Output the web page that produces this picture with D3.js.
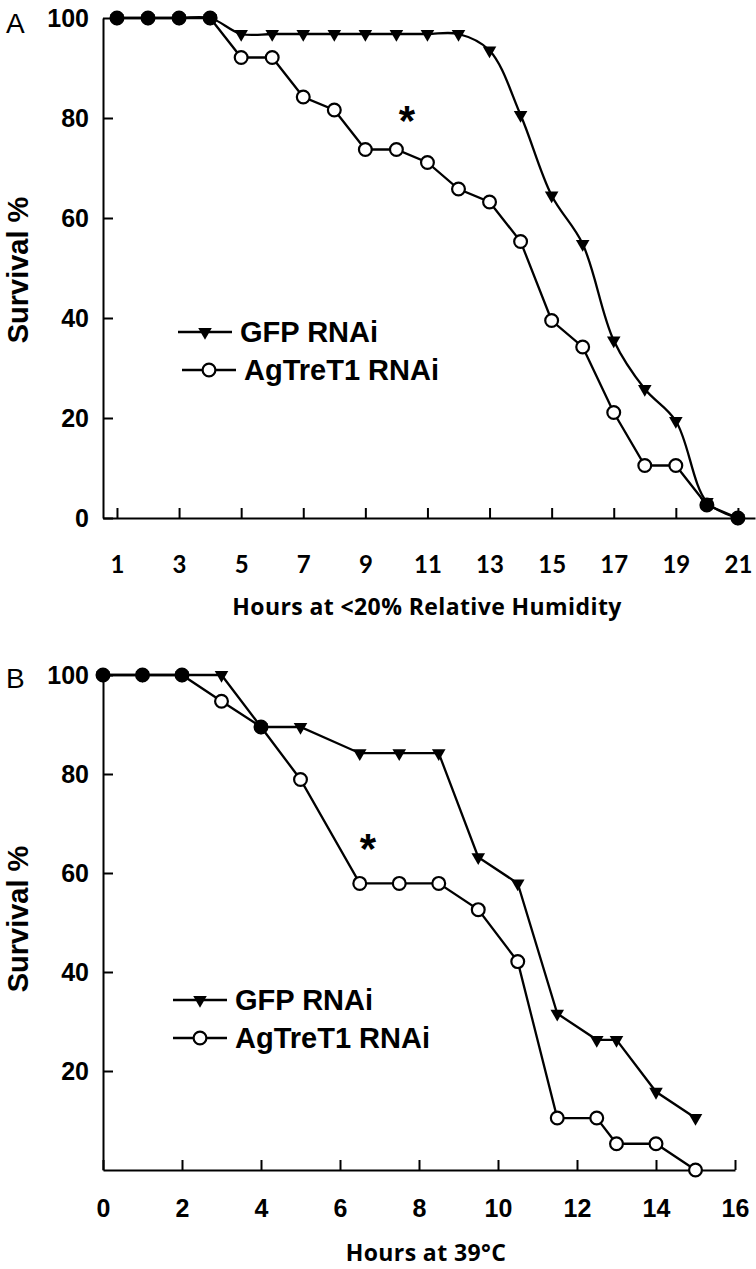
<!DOCTYPE html>
<html>
<head>
<meta charset="utf-8">
<script src="https://cdn.jsdelivr.net/npm/d3@7/dist/d3.min.js"></script>
<style>
  body { margin: 0; background: #fff; }
</style>
</head>
<body>
<div id="chart"></div>
<script>
//////////////////////////////////////////////////////////////////////////
// data

// panel A: hours at <20% relative humidity
var hoursA  = [1, 2, 3, 4, 5, 6, 7, 8, 9, 10, 11, 12, 13, 14, 15, 16, 17, 18, 19, 20, 21];
var gfpA    = [100, 100, 100, 100, 96.8, 96.8, 96.8, 96.8, 96.8, 96.8, 96.8, 96.8,
               93.5, 80.6, 64.5, 54.8, 35.5, 25.8, 19.4, 3.2, 0];
var treA    = [100, 100, 100, 100, 92.1, 92.1, 84.2, 81.6, 73.7, 73.7, 71.1, 65.8,
               63.2, 55.3, 39.5, 34.2, 21.1, 10.5, 10.5, 2.6, 0];
var xTicksA = [1, 3, 5, 7, 9, 11, 13, 15, 17, 19, 21];
var yTicksA = [0, 20, 40, 60, 80, 100];

// panel B: hours at 39°C
var hoursB  = [0, 1, 2, 3, 4, 5, 6.5, 7.5, 8.5, 9.5, 10.5, 11.5, 12.5, 13, 14, 15];
var gfpB    = [100, 100, 100, 100, 89.5, 89.5, 84.2, 84.2, 84.2, 63.2, 57.9, 31.6, 26.3, 26.3, 15.8, 10.5];
var treB    = [100, 100, 100, 94.7, 89.5, 78.9, 57.9, 57.9, 57.9, 52.6, 42.1, 10.5, 10.5, 5.3, 5.3, 0];
var xTicksB = [0, 2, 4, 6, 8, 10, 12, 14, 16];
var yTicksB = [20, 40, 60, 80, 100];

var seriesNames = ["GFP RNAi", "AgTreT1 RNAi"];

//////////////////////////////////////////////////////////////////////////
// layout constants

var Width = 756;
var Height = 1269;
var arial = "Liberation Sans, Arial, sans-serif";
var calibriTicks = "Lato, sans-serif";
var calibriTitle = "Open Sans, sans-serif";
var lineWidth = 2.3;

var panels = [
  { letter: "A", hours: hoursA, gfp: gfpA, tre: treA, xTicks: xTicksA, yTicks: yTicksA,
    xDomain: [0.55, 21.55], xRange: [103, 755], yRange: [518, 18],
    xFont: calibriTicks, xFontSize: 24, xPad: 38, smoothGfp: true,
    xTitle: "Hours at <20% Relative Humidity", xTitleX: 427, xTitleY: 615,
    yTitleY: 270, letterY: 33, star: [10.34, 76.6],
    legendX: 178, legendY: 332, legendShift: 4 },
  { letter: "B", hours: hoursB, gfp: gfpB, tre: treB, xTicks: xTicksB, yTicks: yTicksB,
    xDomain: [0, 16], xRange: [103, 735], yRange: [1170, 675],
    xFont: arial, xFontSize: 25, xPad: 29, smoothGfp: false,
    xTitle: "Hours at 39°C", xTitleX: 426, xTitleY: 1261,
    yTitleY: 919, letterY: 688, star: [6.71, 62.0],
    legendX: 173, legendY: 1000, legendShift: 0 }
];

//////////////////////////////////////////////////////////////////////////

function makeSVG () {
  return d3.select("#chart")
    .append("svg")
    .attr("width", Width)
    .attr("height", Height);
}

// downward pointing triangle
var triangle = d3.symbol().type(d3.symbolTriangle).size(80);

function drawPanel (svg, p) {

  var x = d3.scaleLinear().domain(p.xDomain).range(p.xRange);
  var y = d3.scaleLinear().domain([0, 100]).range(p.yRange);

  // axes, ticks point inside the plot
  var yAxis = d3.axisLeft(y)
    .tickValues(p.yTicks)
    .tickSizeInner(-10)
    .tickSizeOuter(0)
    .tickPadding(14);

  var xAxis = d3.axisBottom(x)
    .tickValues(p.xTicks)
    .tickSizeInner(-10)
    .tickSizeOuter(0)
    .tickPadding(p.xPad);

  var gy = svg.append("g")
    .attr("transform", "translate(" + p.xRange[0] + ",0)")
    .call(yAxis);
  gy.attr("font-family", arial).attr("font-size", 25);
  gy.selectAll("text")
    .attr("font-weight", "bold")
    .attr("fill", "#000");

  var gx = svg.append("g")
    .attr("transform", "translate(0," + p.yRange[0] + ")")
    .call(xAxis);
  gx.attr("font-family", p.xFont).attr("font-size", p.xFontSize);
  gx.selectAll("text")
    .attr("font-weight", "bold")
    .attr("fill", "#000");

  svg.selectAll(".domain, .tick line")
    .attr("stroke", "#000")
    .attr("stroke-width", 2);

  // lines
  var gfpPts = p.hours.map(function (h, i) { return { h: h, v: p.gfp[i] }; });
  var trePts = p.hours.map(function (h, i) { return { h: h, v: p.tre[i], other: p.gfp[i] }; });

  var gfpLine = d3.line()
    .x(function (d) { return x(d.h); })
    .y(function (d) { return y(d.v); })
    .curve(p.smoothGfp ? d3.curveCatmullRom.alpha(0.5) : d3.curveLinear);

  var treLine = d3.line()
    .x(function (d) { return x(d.h); })
    .y(function (d) { return y(d.v); });

  svg.append("path")
    .datum(trePts)
    .attr("d", treLine)
    .attr("fill", "none")
    .attr("stroke", "#000")
    .attr("stroke-width", lineWidth);

  svg.append("path")
    .datum(gfpPts)
    .attr("d", gfpLine)
    .attr("fill", "none")
    .attr("stroke", "#000")
    .attr("stroke-width", lineWidth);

  // open circles, solid where both series sit on the same point
  svg.append("g").selectAll("circle")
    .data(trePts)
    .enter()
    .append("circle")
    .attr("cx", function (d) { return x(d.h); })
    .attr("cy", function (d) { return y(d.v); })
    .attr("r", 6.4)
    .attr("fill", function (d) { return Math.abs(d.v - d.other) < 1 ? "#000" : "#fff"; })
    .attr("stroke", "#000")
    .attr("stroke-width", 2.2);

  svg.append("g").selectAll("path")
    .data(gfpPts)
    .enter()
    .append("path")
    .attr("d", triangle)
    .attr("transform", function (d) {
      return "translate(" + x(d.h) + "," + y(d.v) + ") rotate(180)";
    })
    .attr("fill", "#000");

  // significance star
  svg.append("text")
    .attr("x", x(p.star[0]))
    .attr("y", y(p.star[1]))
    .attr("text-anchor", "middle")
    .attr("font-family", arial)
    .attr("font-weight", "bold")
    .attr("font-size", "42px")
    .text("*");

  // titles
  svg.append("text")
    .attr("x", p.xTitleX)
    .attr("y", p.xTitleY)
    .attr("text-anchor", "middle")
    .attr("font-family", calibriTitle)
    .attr("font-weight", "bold")
    .attr("font-size", "23px")
    .attr("letter-spacing", "0.4px")
    .text(p.xTitle);

  svg.append("text")
    .attr("transform", "translate(28," + p.yTitleY + ") rotate(-90)")
    .attr("text-anchor", "middle")
    .attr("font-family", arial)
    .attr("font-weight", "bold")
    .attr("font-size", "29px")
    .text("Survival %");

  svg.append("text")
    .attr("x", 6)
    .attr("y", p.letterY)
    .attr("font-family", arial)
    .attr("font-size", "28px")
    .text(p.letter);

  // legend
  var leg = svg.append("g")
    .attr("transform", "translate(" + p.legendX + "," + p.legendY + ")");

  seriesNames.forEach(function (name, i) {
    var ly = i * 38;
    var dx = i * p.legendShift;
    leg.append("line")
      .attr("x1", dx).attr("x2", dx + 54)
      .attr("y1", ly).attr("y2", ly)
      .attr("stroke", "#000")
      .attr("stroke-width", lineWidth);
    if (i === 0) {
      leg.append("path")
        .attr("d", triangle)
        .attr("transform", "translate(" + (dx + 27) + "," + ly + ") rotate(180)")
        .attr("fill", "#000");
    } else {
      leg.append("circle")
        .attr("cx", dx + 27).attr("cy", ly).attr("r", 6.4)
        .attr("fill", "#fff")
        .attr("stroke", "#000")
        .attr("stroke-width", 2.2);
    }
    leg.append("text")
      .attr("x", dx + 62)
      .attr("y", ly)
      .attr("dy", "0.36em")
      .attr("font-family", arial)
      .attr("font-weight", "bold")
      .attr("font-size", "29px")
      .text(name);
  });
}

var svg = makeSVG();
panels.forEach(function (p) { drawPanel(svg, p); });
</script>
</body>
</html>
